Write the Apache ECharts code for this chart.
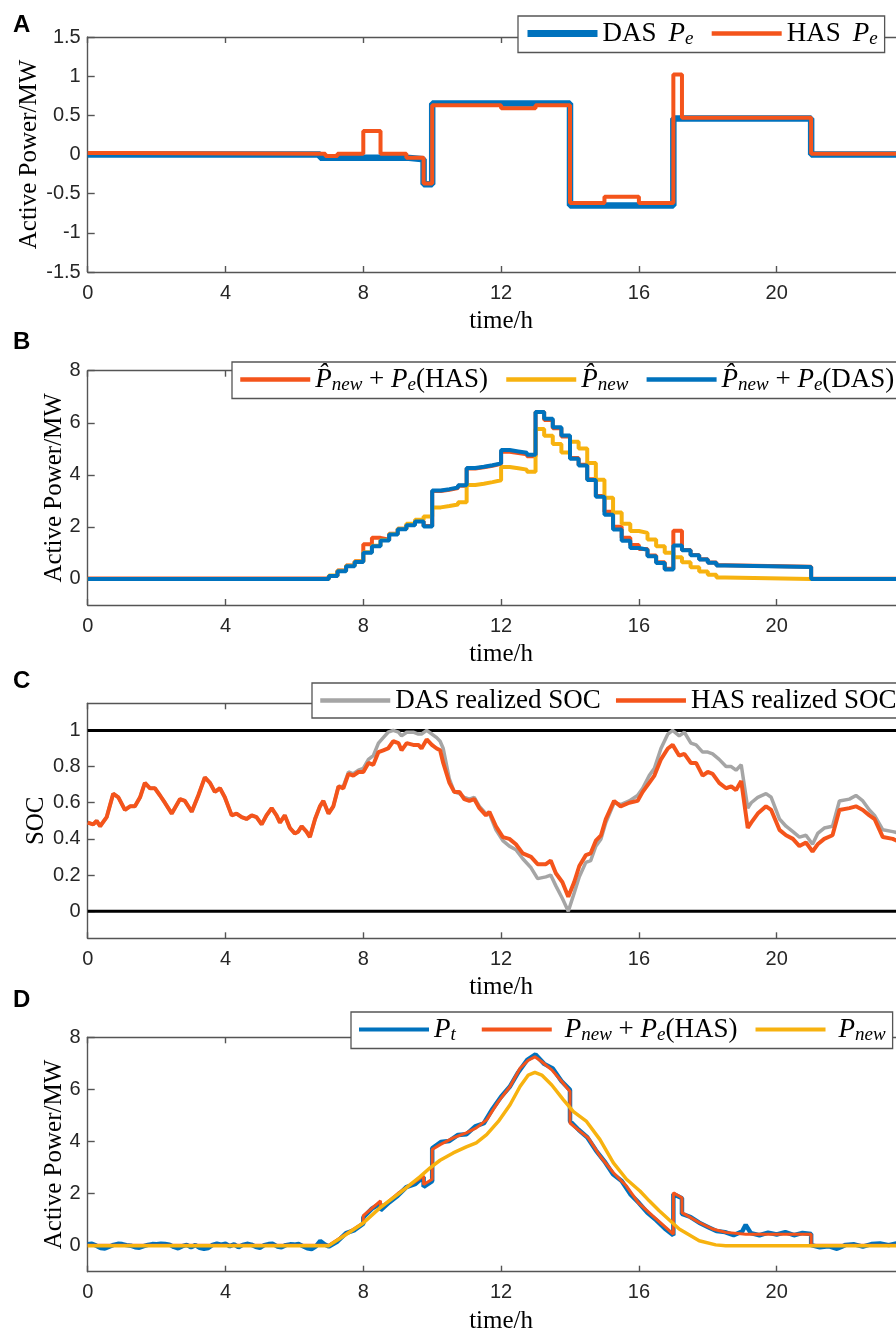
<!DOCTYPE html>
<html>
<head>
<meta charset="utf-8">
<title>Chart</title>
<script src="https://cdn.jsdelivr.net/npm/echarts@6/dist/echarts.min.js"></script>
<style>
  html, body { margin: 0; padding: 0; background: #fff; }
  #chart { width: 896px; height: 1332px; }
</style>
</head>
<body>
<div id="chart"></div>
<script>
// ---------- data ----------
// A: energy storage schedules (step, value holds until next time)
const dasPeT = [0, 6.75, 9.25, 9.75, 10, 14, 17, 21, 24];
const dasPeV = [0, -0.04, -0.06, -0.38, 0.65, -0.65, 0.46, 0, 0];
const hasPeT = [0, 1, 6.9, 7.25, 8, 8.5, 9.25, 9.75, 10, 12, 13, 14, 15, 16, 17, 17.25, 21, 24];
const hasPeV = [0.02, 0.01, -0.02, 0.01, 0.3, 0.01, -0.04, -0.37, 0.63, 0.59, 0.63, -0.62, -0.54, -0.62, 1.02, 0.47, 0.01, 0.01];

// B: 15-min forecasts (step)
const bT = [0, 7, 7.25, 7.5, 7.75, 8, 8.25, 8.5, 8.75, 9, 9.25, 9.5, 9.75,
  10, 10.25, 10.5, 10.75, 11, 11.25, 11.5, 11.75, 12, 12.25, 12.5, 12.75,
  13, 13.25, 13.5, 13.75, 14, 14.25, 14.5, 14.75, 15, 15.25, 15.5, 15.75,
  16, 16.25, 16.5, 16.75, 17, 17.25, 17.5, 17.75, 18, 18.25, 18.5, 21, 24];
const bHas = [0.02, 0.11, 0.33, 0.52, 0.68, 1.33, 1.58, 1.51, 1.74, 1.93, 2.08, 2.23, 2.03,
  3.38, 3.43, 3.49, 3.58, 4.24, 4.29, 4.35, 4.42, 4.89, 4.84, 4.79, 4.71,
  6.41, 6.11, 5.79, 5.47, 4.65, 4.39, 3.83, 3.19, 2.58, 2.01, 1.58, 1.30,
  1.15, 0.90, 0.64, 0.39, 1.85, 1.11, 0.92, 0.76, 0.63, 0.53, 0.47, 0.01, 0.01];
const bNew = [0, 0.13, 0.32, 0.51, 0.67, 1.03, 1.28, 1.50, 1.73, 1.93, 2.12, 2.27, 2.40,
  2.75, 2.80, 2.86, 2.95, 3.61, 3.66, 3.72, 3.79, 4.30, 4.25, 4.20, 4.12,
  5.76, 5.50, 5.18, 4.86, 5.27, 5.01, 4.45, 3.81, 3.12, 2.55, 2.12, 1.84,
  1.77, 1.52, 1.26, 1.01, 0.83, 0.64, 0.45, 0.29, 0.16, 0.06, 0, 0, 0];
const bDas = [0, 0.11, 0.30, 0.49, 0.65, 1.01, 1.26, 1.48, 1.71, 1.91, 2.06, 2.21, 2.02,
  3.40, 3.45, 3.51, 3.60, 4.26, 4.31, 4.37, 4.44, 4.95, 4.90, 4.85, 4.77,
  6.41, 6.15, 5.83, 5.51, 4.62, 4.36, 3.80, 3.16, 2.47, 1.90, 1.47, 1.19,
  1.12, 0.87, 0.61, 0.36, 1.29, 1.10, 0.91, 0.75, 0.62, 0.52, 0.46, 0, 0];

// C: realized SOC
const socT = [0, 0.16, 0.26, 0.36, 0.55, 0.74, 0.89, 1.08, 1.23, 1.37, 1.52, 1.66, 1.81, 1.95, 2.1,
  2.24, 2.44, 2.68, 2.82, 3.02, 3.21, 3.4, 3.55, 3.69, 3.84, 3.98, 4.18, 4.32, 4.47, 4.61,
  4.76, 4.9, 5.05, 5.19, 5.34, 5.48, 5.58, 5.72, 5.87, 6.01, 6.11, 6.21, 6.35, 6.45, 6.6,
  6.74, 6.84, 6.99, 7.13, 7.28, 7.42, 7.57, 7.71, 7.86, 8.0, 8.15, 8.29, 8.44, 8.58, 8.72,
  8.87, 9.02, 9.11, 9.26, 9.45, 9.6, 9.69, 9.84, 9.99, 10.13, 10.23, 10.32,
  10.5, 10.64, 10.79, 10.93, 11.08, 11.22, 11.37, 11.56, 11.66, 11.85, 12.05, 12.24, 12.43, 12.63, 12.87,
  13.06, 13.3, 13.44, 13.59, 13.78, 13.95, 14.12, 14.27, 14.46, 14.6, 14.75, 14.9, 15.04, 15.28, 15.47,
  15.72, 15.96, 16.11, 16.3, 16.45, 16.64, 16.84, 16.98, 17.17, 17.32, 17.51, 17.66, 17.85, 18.0, 18.14,
  18.33, 18.53, 18.68, 18.82, 18.97, 19.16, 19.26, 19.45, 19.69, 19.84, 20.08, 20.27, 20.47, 20.66, 20.85,
  21.04, 21.19, 21.38, 21.62, 21.82, 22.11, 22.3, 22.5, 22.69, 22.84, 23.08, 23.37, 23.6, 24];
const socHas = [0.49, 0.48, 0.50, 0.47, 0.52, 0.65, 0.63, 0.56, 0.58, 0.58, 0.63, 0.71, 0.68, 0.68, 0.64,
  0.60, 0.54, 0.62, 0.61, 0.55, 0.64, 0.74, 0.71, 0.66, 0.68, 0.63, 0.53, 0.54, 0.52, 0.51,
  0.53, 0.52, 0.48, 0.53, 0.57, 0.53, 0.49, 0.53, 0.46, 0.43, 0.44, 0.47, 0.44, 0.41, 0.51,
  0.58, 0.61, 0.54, 0.58, 0.69, 0.68, 0.76, 0.75, 0.77, 0.77, 0.82, 0.81, 0.88, 0.89, 0.90,
  0.94, 0.93, 0.89, 0.93, 0.92, 0.92, 0.90, 0.95, 0.92, 0.90, 0.89, 0.82,
  0.71, 0.66, 0.66, 0.62, 0.61, 0.62, 0.57, 0.53, 0.55, 0.47, 0.41, 0.40, 0.37, 0.32, 0.30,
  0.26, 0.26, 0.28, 0.21, 0.16, 0.08, 0.16, 0.25, 0.31, 0.32, 0.39, 0.42, 0.51, 0.61, 0.58,
  0.60, 0.61, 0.66, 0.71, 0.75, 0.84, 0.90, 0.92, 0.86, 0.87, 0.82, 0.82, 0.75, 0.77, 0.76,
  0.71, 0.68, 0.69, 0.67, 0.72, 0.46, 0.49, 0.54, 0.58, 0.56, 0.45, 0.42, 0.40, 0.36, 0.38,
  0.33, 0.37, 0.40, 0.42, 0.56, 0.57, 0.58, 0.56, 0.53, 0.51, 0.41, 0.40, 0.38, 0.37];
const socDas = [0.49, 0.48, 0.50, 0.47, 0.52, 0.65, 0.63, 0.56, 0.58, 0.58, 0.63, 0.71, 0.68, 0.68, 0.64,
  0.60, 0.54, 0.62, 0.61, 0.55, 0.64, 0.74, 0.71, 0.66, 0.68, 0.63, 0.53, 0.54, 0.52, 0.51,
  0.53, 0.52, 0.48, 0.53, 0.57, 0.53, 0.49, 0.53, 0.46, 0.43, 0.44, 0.47, 0.44, 0.41, 0.51,
  0.58, 0.61, 0.54, 0.58, 0.69, 0.69, 0.77, 0.76, 0.78, 0.79, 0.84, 0.86, 0.93, 0.96, 0.99,
  1.00, 0.99, 0.97, 0.99, 0.99, 0.98, 0.98, 1.00, 0.98, 0.96, 0.94, 0.90,
  0.73, 0.66, 0.65, 0.63, 0.62, 0.63, 0.58, 0.54, 0.54, 0.45, 0.39, 0.36, 0.34, 0.29, 0.24,
  0.18, 0.19, 0.20, 0.14, 0.07, 0.00, 0.10, 0.19, 0.27, 0.28, 0.36, 0.40, 0.49, 0.60, 0.59,
  0.61, 0.64, 0.68, 0.75, 0.79, 0.90, 0.98, 1.00, 0.97, 0.99, 0.93, 0.92, 0.88, 0.88, 0.87,
  0.84, 0.80, 0.80, 0.78, 0.81, 0.57, 0.60, 0.63, 0.65, 0.63, 0.51, 0.47, 0.44, 0.41, 0.42,
  0.37, 0.43, 0.46, 0.47, 0.61, 0.62, 0.64, 0.61, 0.56, 0.53, 0.45, 0.44, 0.43, 0.42];
const socLimits = [0, 1];

// D: realized power
const ptT = [0, 0.125, 0.25, 0.375, 0.5, 0.625, 0.75, 0.875, 1, 1.125, 1.25, 1.375, 1.5, 1.625, 1.75, 1.875,
  2, 2.125, 2.25, 2.375, 2.5, 2.625, 2.75, 2.875, 3, 3.125, 3.25, 3.375, 3.5, 3.625, 3.75, 3.875,
  4, 4.125, 4.25, 4.375, 4.5, 4.625, 4.75, 4.875, 5, 5.125, 5.25, 5.375, 5.5, 5.625, 5.75, 5.875,
  6, 6.125, 6.25, 6.375, 6.5, 6.625, 6.75, 6.875, 7,
  7.25, 7.5, 7.75, 8.0, 8.0, 8.25, 8.5, 8.5, 8.75, 9.0, 9.25, 9.5, 9.75, 9.75, 10.0, 10.0,
  10.25, 10.5, 10.75, 11.0, 11.25, 11.5, 11.75, 12.0, 12.25, 12.5, 12.75, 13.0, 13.25, 13.5, 13.75,
  14.0, 14.0, 14.25, 14.5, 14.75, 15.0, 15.25, 15.5, 15.75, 16.0, 16.25, 16.5, 16.75, 17.0, 17.0,
  17.25, 17.25, 17.5, 17.75, 18.0, 18.25, 18.5, 18.75, 19.0, 19.1, 19.25, 19.5, 19.75, 20.0,
  20.25, 20.5, 20.75, 21.0, 21.0, 21.25, 21.5, 21.75, 21.875, 22.0, 22.25, 22.5, 22.75, 23.0, 23.25,
  23.5, 23.75, 24];
const ptV = [0.05, 0.07, 0.0, -0.09, -0.11, -0.04, 0.03, 0.07, 0.06, 0.02, 0.0, -0.06, -0.08, -0.02, 0.03, 0.06,
  0.05, 0.07, 0.06, 0.04, -0.05, -0.10, -0.02, 0.03, -0.06, 0.02, -0.08, -0.12, -0.09, 0.03, 0.08, 0.04,
  0.07, -0.02, 0.05, -0.06, 0.03, 0.07, 0.04, -0.04, -0.08, 0.02, 0.06, 0.07, -0.03, -0.06, 0.02, 0.05,
  0.04, 0.06, -0.02, -0.10, -0.13, -0.03, 0.18, 0.05, -0.03,
  0.16, 0.48, 0.60, 0.84, 1.08, 1.42, 1.62, 1.36, 1.66, 1.92, 2.25, 2.36, 2.64, 2.26, 2.48, 3.74,
  3.98, 4.02, 4.25, 4.28, 4.58, 4.70, 5.25, 5.72, 6.10, 6.66, 7.12, 7.34, 6.98, 6.80, 6.32,
  5.98, 4.78, 4.45, 4.16, 3.66, 3.24, 2.74, 2.48, 1.98, 1.64, 1.26, 0.98, 0.66, 0.40, 1.98,
  1.82, 1.22, 1.10, 0.88, 0.72, 0.56, 0.52, 0.40, 0.55, 0.80, 0.48, 0.40, 0.50, 0.43,
  0.52, 0.40, 0.49, 0.45, 0.02, -0.06, -0.02, -0.12, -0.05, 0.03, 0.05, -0.04, 0.06, 0.08, 0.02,
  0.09, 0.04, 0.05];
const dHasT = [0, 7.0, 7.5, 8.0, 8.0, 8.5, 8.5, 9.0, 9.5, 9.75, 9.75, 10.0, 10.0, 10.23, 10.61,
  10.99, 11.28, 11.58, 11.92, 12.26, 12.55, 12.79, 12.98, 13.18, 13.47, 13.76, 14.0, 14.0, 14.29, 14.53,
  14.87, 15.26, 15.64, 15.98, 16.4, 17.0, 17.0, 17.25, 17.25, 17.75, 18.14, 18.52, 19.1, 21.0, 21.0, 24];
const dHasV = [0.02, 0.02, 0.45, 0.88, 1.15, 1.72, 1.45, 2.0, 2.45, 2.68, 2.35, 2.55, 3.69, 3.88, 4.14,
  4.33, 4.52, 4.83, 5.53, 6.11, 6.81, 7.12, 7.25, 7.06, 6.75, 6.30, 5.92, 4.71, 4.39, 4.14,
  3.44, 2.80, 2.29, 1.65, 1.14, 0.44, 2.03, 1.84, 1.27, 0.89, 0.64, 0.51, 0.44, 0.44, 0.02, 0.02];
const dNewT = [0, 7.0, 7.5, 8.0, 8.49, 9.07, 9.65, 9.94, 10.23, 10.61, 10.99, 11.28, 11.58, 11.92,
  12.26, 12.55, 12.79, 12.98, 13.18, 13.47, 13.81, 14.1, 14.48, 14.87, 15.26, 15.64, 16.03, 16.3,
  16.59, 17.17, 17.75, 18.23, 18.52, 24];
const dNewV = [0, 0, 0.43, 0.87, 1.46, 2.04, 2.65, 2.99, 3.28, 3.56, 3.79, 3.95, 4.26, 4.77,
  5.41, 6.11, 6.55, 6.65, 6.55, 6.17, 5.60, 5.15, 4.77, 4.07, 3.18, 2.55, 2.10, 1.72,
  1.34, 0.64, 0.19, 0.03, 0, 0];

// tick labels
const powerTicks = [0, 2, 4, 6, 8];
const socTicks = [0, 0.2, 0.4, 0.6, 0.8, 1];

const zip = (t, v) => t.map((x, i) => [x, v[i]]);

// ---------- styles ----------
const BLUE = '#0072BD', ORANGE = '#F4541B', YELLOW = '#F7B20F', GRAY = '#A5A5A5';
const AX = '#555';
const SERIF = 'Liberation Serif';
const SANS = 'Liberation Sans';

const grids = [
  { left: 87.7, top: 37, width: 826.8, height: 235 },
  { left: 87.7, top: 370.7, width: 826.8, height: 234.3 },
  { left: 87.7, top: 703.3, width: 826.8, height: 235 },
  { left: 87.7, top: 1037.3, width: 826.8, height: 234.4 }
].map(g => Object.assign(g, { containLabel: false, outerBoundsMode: 'none' }));

const xAxes = [];
grids.forEach((g, i) => {
  xAxes.push({
    type: 'value', gridIndex: i, min: 0, max: 24, interval: 4, position: 'bottom',
    name: 'time/h', nameLocation: 'middle', nameGap: 37, nameMoveOverlap: false,
    nameTextStyle: { fontFamily: SERIF, fontSize: 25, color: '#000' },
    axisLine: { show: true, onZero: false, lineStyle: { color: AX, width: 1.4 } },
    axisTick: { show: true, inside: true, length: 6, lineStyle: { color: AX, width: 1.4 } },
    axisLabel: { fontFamily: SANS, fontSize: 20, color: '#262626', margin: 11 },
    splitLine: { show: false }
  });
  xAxes.push({
    type: 'value', gridIndex: i, min: 0, max: 24, interval: 4, position: 'top',
    axisLine: { show: true, onZero: false, lineStyle: { color: AX, width: 1.4 } },
    axisTick: { show: true, inside: true, length: 6, lineStyle: { color: AX, width: 1.4 } },
    axisLabel: { show: false },
    splitLine: { show: false }
  });
});

function yAxis(i, min, max, name, nameGap, ticks, interval) {
  const ax = {
    type: 'value', gridIndex: i, min: min, max: max,
    name: name, nameLocation: 'middle', nameGap: nameGap, nameMoveOverlap: false,
    nameTextStyle: { fontFamily: SERIF, fontSize: 25, color: '#000' },
    axisLine: { show: true, onZero: false, lineStyle: { color: AX, width: 1.4 } },
    axisTick: { show: true, inside: true, length: 7, lineStyle: { color: AX, width: 1.4 } },
    axisLabel: { fontFamily: SANS, fontSize: 20, color: '#262626', margin: 7 },
    splitLine: { show: false }
  };
  if (ticks) {
    ax.axisTick.customValues = ticks;
    ax.axisLabel.customValues = ticks;
  } else {
    ax.interval = interval;
  }
  return ax;
}

const rich = {
  n: { fontFamily: SERIF, fontSize: 27, lineHeight: 30, color: '#000' },
  i: { fontFamily: SERIF, fontStyle: 'italic', fontSize: 27, lineHeight: 30, color: '#000' },
  s: { fontFamily: SERIF, fontStyle: 'italic', fontSize: 19, lineHeight: 18, verticalAlign: 'bottom', color: '#000' },
  g: { fontSize: 27, width: 12, lineHeight: 30 },
  h: { fontSize: 27, width: 8, lineHeight: 30 }
};
const legendText = {
  'DAS Pe': '{n|DAS}{g| }{i|P}{s|e}',
  'HAS Pe': '{n|HAS}{g| }{i|P}{s|e}',
  'B HAS': '{i|P\u0302}{s|new}{n| + }{i|P}{s|e}{n|(HAS)}',
  'B New': '{i|P\u0302}{s|new}',
  'B DAS': '{i|P\u0302}{s|new}{n| + }{i|P}{s|e}{n|(DAS)}',
  'DAS SOC': '{n|DAS realized SOC}',
  'HAS SOC': '{n|HAS realized SOC}',
  'Pt': '{i|P}{s|t}{h| }',
  'D HAS': '{h| }{i|P}{s|new}{n| + }{i|P}{s|e}{n|(HAS)}',
  'D New': '{h| }{i|P}{s|new}'
};
function legend(items, left, top, gap) {
  return {
    data: items.map(it => ({ name: it[0], lineStyle: { width: it[1] } })),
    left: left, top: top, width: 800, orient: 'horizontal',
    itemWidth: 70, itemHeight: 14, itemGap: gap || 16, padding: [4, 7, 4, 6],
    borderColor: AX, borderWidth: 1.3, backgroundColor: '#fff', selectedMode: false,
    itemStyle: { color: 'rgba(0,0,0,0)', borderWidth: 0, opacity: 0 },
    textStyle: { fontFamily: SERIF, fontSize: 27, color: '#000', rich: rich },
    formatter: n => legendText[n]
  };
}

function letter(t, top) {
  return { text: t, left: 13, top: top, padding: 0,
    textStyle: { fontFamily: SANS, fontWeight: 'bold', fontSize: 24, color: '#000' } };
}

function line(name, xi, data, color, width, step) {
  return {
    name: name, type: 'line', xAxisIndex: xi, yAxisIndex: xi / 2, data: data,
    step: step || false, symbol: 'none', showSymbol: false, silent: true,
    lineStyle: { color: color, width: width }, itemStyle: { color: color }
  };
}

const series = [
  line('DAS Pe', 0, zip(dasPeT, dasPeV), BLUE, 6.5, 'end'),
  line('HAS Pe', 0, zip(hasPeT, hasPeV), ORANGE, 4, 'end'),

  line('B HAS', 2, zip(bT, bHas), ORANGE, 4, 'end'),
  line('B New', 2, zip(bT, bNew), YELLOW, 4, 'end'),
  line('B DAS', 2, zip(bT, bDas), BLUE, 4, 'end'),

  ...socLimits.map(v => line('limit ' + v, 4, [[0, v], [24, v]], '#000', 3)),
  line('DAS SOC', 4, zip(socT, socDas), GRAY, 3.5),
  line('HAS SOC', 4, zip(socT, socHas), ORANGE, 4),

  line('Pt', 6, zip(ptT, ptV), BLUE, 4.5),
  line('D HAS', 6, zip(dHasT, dHasV), ORANGE, 3),
  line('D New', 6, zip(dNewT, dNewV), YELLOW, 3.5)
];

const chart = echarts.init(document.getElementById('chart'), null, { renderer: 'canvas' });
chart.setOption({
  animation: false,
  backgroundColor: '#fff',
  title: [letter('A', 13), letter('B', 330), letter('C', 669), letter('D', 988)],
  grid: grids,
  xAxis: xAxes,
  yAxis: [
    yAxis(0, -1.5, 1.5, 'Active Power/MW', 46, null, 0.5),
    yAxis(1, -1, 8, 'Active Power/MW', 21, powerTicks),
    yAxis(2, -0.15, 1.15, 'SOC', 39, socTicks),
    yAxis(3, -1, 8, 'Active Power/MW', 21, powerTicks)
  ],
  legend: [
    legend([['DAS Pe', 7], ['HAS Pe', 4.5]], 518, 16),
    legend([['B HAS', 4.5], ['B New', 4.5], ['B DAS', 4.5]], 232, 362),
    legend([['DAS SOC', 4.5], ['HAS SOC', 4.5]], 312, 683, 13),
    legend([['Pt', 4], ['D HAS', 4], ['D New', 4]], 351, 1012)
  ],
  series: series
});
</script>
</body>
</html>
